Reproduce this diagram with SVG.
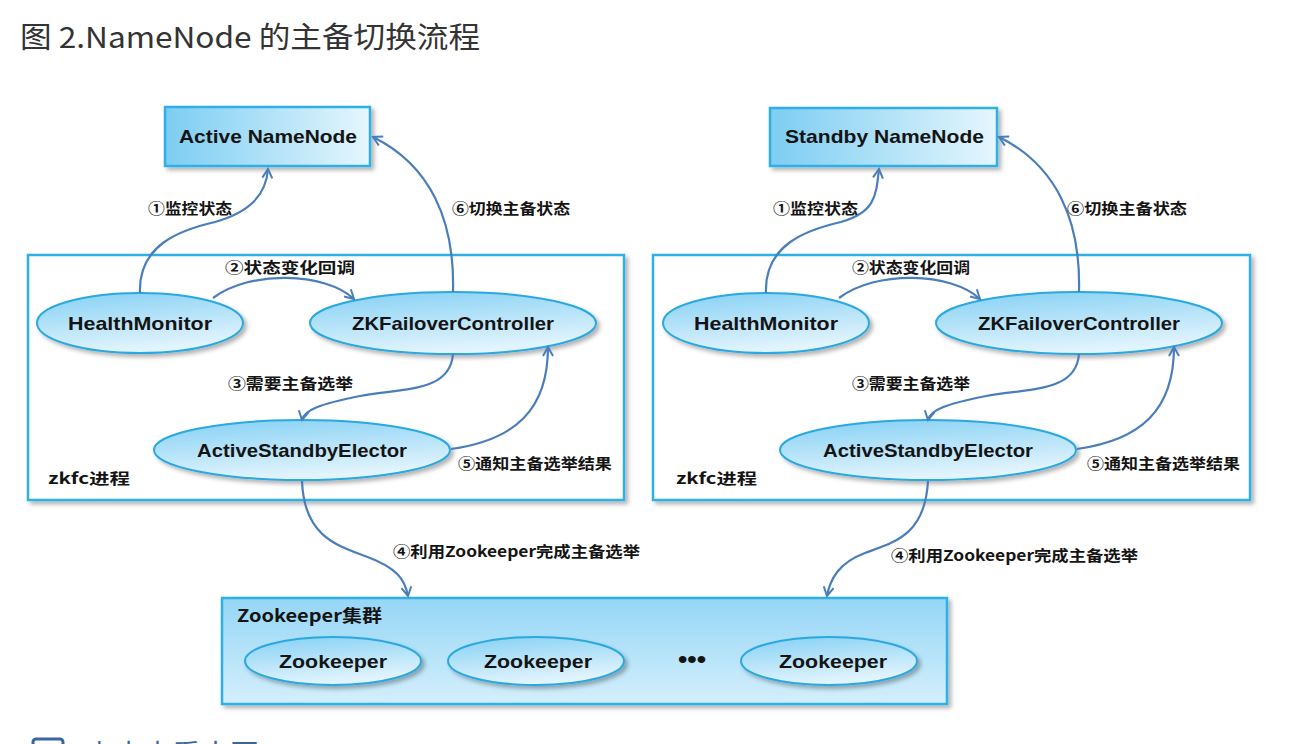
<svg xmlns="http://www.w3.org/2000/svg" width="1296" height="744" viewBox="0 0 1296 744">
<style>
.title{font-family:"Noto Sans CJK SC","Liberation Sans",sans-serif;font-size:29px;fill:#333333}
.node{font-family:"Liberation Sans","Noto Sans CJK SC",sans-serif;font-weight:bold;font-size:19px;fill:#141414}
.lbl{font-family:"Noto Sans CJK SC","Liberation Sans",sans-serif;font-weight:bold;font-size:15px;fill:#141414}
.box{stroke:#2fb0e6;stroke-width:2.5}
.ell{fill:url(#gEll);stroke:#2aa8e0;stroke-width:2;filter:url(#sh)}
.con{fill:none;stroke:#4a7ebb;stroke-width:2.2;marker-end:url(#arr)}
.foot{font-family:"Noto Sans CJK SC","Liberation Sans",sans-serif;font-size:29px;fill:#3d6698}
</style>
<defs>
<linearGradient id="gNN" x1="0" y1="0" x2="1" y2="0">
<stop offset="0" stop-color="#7ccdf2"/><stop offset="1" stop-color="#e6f6fd"/>
</linearGradient>
<linearGradient id="gEll" x1="0" y1="0" x2="0.3" y2="1">
<stop offset="0" stop-color="#84d0f4"/><stop offset="1" stop-color="#e2f4fd"/>
</linearGradient>
<linearGradient id="gZK" x1="0" y1="0" x2="0" y2="1">
<stop offset="0" stop-color="#95d6f6"/><stop offset="1" stop-color="#d4effc"/>
</linearGradient>
<filter id="sh" x="-10%" y="-20%" width="125%" height="150%">
<feDropShadow dx="3" dy="3" stdDeviation="2" flood-color="#000" flood-opacity="0.3"/>
</filter>
<marker id="arr" viewBox="0 0 12 12" refX="10" refY="6" markerWidth="12" markerHeight="12" markerUnits="userSpaceOnUse" orient="auto">
<path d="M1,1 L10,6 L1,11" fill="none" stroke="#4a7ebb" stroke-width="2"/>
</marker>
</defs>
<rect width="1296" height="744" fill="#ffffff"/>
<text class="title" x="20" y="48" textLength="460" lengthAdjust="spacingAndGlyphs">图 2.NameNode 的主备切换流程</text>

<g id="zkfc-left">
<rect class="box" x="28" y="255" width="596" height="245" fill="#ffffff" filter="url(#sh)"/>
<text class="lbl" x="48" y="484" textLength="82" lengthAdjust="spacingAndGlyphs">zkfc进程</text>
</g>
<g id="zkfc-right">
<rect class="box" x="653" y="255" width="597" height="245" fill="#ffffff" filter="url(#sh)"/>
<text class="lbl" x="676" y="484" textLength="81" lengthAdjust="spacingAndGlyphs">zkfc进程</text>
</g>

<g id="active-namenode">
<rect class="box" x="165" y="107" width="205" height="59" fill="url(#gNN)" filter="url(#sh)"/>
<text class="node" x="179" y="143" textLength="178" lengthAdjust="spacingAndGlyphs">Active NameNode</text>
</g>
<g id="standby-namenode">
<rect class="box" x="770" y="108" width="227" height="58" fill="url(#gNN)" filter="url(#sh)"/>
<text class="node" x="785" y="143" textLength="199" lengthAdjust="spacingAndGlyphs">Standby NameNode</text>
</g>

<g id="hm-left">
<ellipse class="ell" cx="140" cy="323" rx="103" ry="30"/>
<text class="node" x="140" y="330" text-anchor="middle" textLength="144" lengthAdjust="spacingAndGlyphs">HealthMonitor</text>
</g>
<g id="zkfc-ctrl-left">
<ellipse class="ell" cx="453" cy="323" rx="143" ry="31"/>
<text class="node" x="453" y="330" text-anchor="middle" textLength="202" lengthAdjust="spacingAndGlyphs">ZKFailoverController</text>
</g>
<g id="ase-left">
<ellipse class="ell" cx="302" cy="450" rx="148" ry="30"/>
<text class="node" x="302" y="457" text-anchor="middle" textLength="210" lengthAdjust="spacingAndGlyphs">ActiveStandbyElector</text>
</g>

<g id="hm-right">
<ellipse class="ell" cx="766" cy="323" rx="103" ry="30"/>
<text class="node" x="766" y="330" text-anchor="middle" textLength="144" lengthAdjust="spacingAndGlyphs">HealthMonitor</text>
</g>
<g id="zkfc-ctrl-right">
<ellipse class="ell" cx="1079" cy="323" rx="143" ry="31"/>
<text class="node" x="1079" y="330" text-anchor="middle" textLength="202" lengthAdjust="spacingAndGlyphs">ZKFailoverController</text>
</g>
<g id="ase-right">
<ellipse class="ell" cx="928" cy="450" rx="148" ry="30"/>
<text class="node" x="928" y="457" text-anchor="middle" textLength="210" lengthAdjust="spacingAndGlyphs">ActiveStandbyElector</text>
</g>

<g id="zookeeper-cluster">
<rect class="box" x="222" y="598" width="725" height="106" fill="url(#gZK)" filter="url(#sh)"/>
<text class="lbl" x="237" y="622" textLength="145" lengthAdjust="spacingAndGlyphs" style="font-size:17px">Zookeeper集群</text>
</g>
<g id="zk1">
<ellipse class="ell" cx="333" cy="661" rx="88" ry="24"/>
<text class="node" x="333" y="668" text-anchor="middle" textLength="108" lengthAdjust="spacingAndGlyphs">Zookeeper</text>
</g>
<g id="zk2">
<ellipse class="ell" cx="536" cy="661" rx="88" ry="24"/>
<text class="node" x="538" y="668" text-anchor="middle" textLength="108" lengthAdjust="spacingAndGlyphs">Zookeeper</text>
</g>
<g id="zk-dots">
<text class="node" x="692" y="667" text-anchor="middle" textLength="28" lengthAdjust="spacingAndGlyphs" style="font-size:24px">•••</text>
</g>
<g id="zk3">
<ellipse class="ell" cx="829" cy="661" rx="88" ry="24"/>
<text class="node" x="833" y="668" text-anchor="middle" textLength="108" lengthAdjust="spacingAndGlyphs">Zookeeper</text>
</g>

<g id="connectors">
<path class="con" d="M140,293 C138,245 180,230 215,222 C250,212 266,195 268,169"/>
<path class="con" d="M453,292 C455,220 430,165 373,137"/>
<path class="con" d="M213,298 C250,270 325,272 354,299"/>
<path class="con" d="M453,354 C450,392 405,388 360,396 C320,404 304,410 302,420"/>
<path class="con" d="M451,449 C515,440 548,410 548,347"/>
<path class="con" d="M302,481 C304,535 335,545 365,556 C398,568 405,580 408,596"/>

<path class="con" d="M766,293 C764,245 806,230 841,222 C876,212 876,195 879,169"/>
<path class="con" d="M1079,292 C1081,220 1056,165 999,137"/>
<path class="con" d="M839,298 C876,270 951,272 980,299"/>
<path class="con" d="M1079,354 C1076,392 1031,388 986,396 C946,404 930,410 928,420"/>
<path class="con" d="M1077,449 C1141,440 1174,410 1174,347"/>
<path class="con" d="M928,481 C925,535 895,542 865,553 C838,563 830,580 827,596"/>
</g>

<g id="labels">
<text class="lbl" x="148" y="214" textLength="84" lengthAdjust="spacingAndGlyphs">①监控状态</text>
<text class="lbl" x="452" y="214" textLength="118" lengthAdjust="spacingAndGlyphs">⑥切换主备状态</text>
<text class="lbl" x="225" y="273" textLength="130" lengthAdjust="spacingAndGlyphs">②状态变化回调</text>
<text class="lbl" x="228" y="389" textLength="125" lengthAdjust="spacingAndGlyphs">③需要主备选举</text>
<text class="lbl" x="458" y="469" textLength="154" lengthAdjust="spacingAndGlyphs">⑤通知主备选举结果</text>
<text class="lbl" x="393" y="557" textLength="247" lengthAdjust="spacingAndGlyphs">④利用Zookeeper完成主备选举</text>

<text class="lbl" x="773" y="214" textLength="85" lengthAdjust="spacingAndGlyphs">①监控状态</text>
<text class="lbl" x="1067" y="214" textLength="120" lengthAdjust="spacingAndGlyphs">⑥切换主备状态</text>
<text class="lbl" x="852" y="273" textLength="118" lengthAdjust="spacingAndGlyphs">②状态变化回调</text>
<text class="lbl" x="852" y="389" textLength="118" lengthAdjust="spacingAndGlyphs">③需要主备选举</text>
<text class="lbl" x="1087" y="469" textLength="153" lengthAdjust="spacingAndGlyphs">⑤通知主备选举结果</text>
<text class="lbl" x="891" y="561" textLength="247" lengthAdjust="spacingAndGlyphs">④利用Zookeeper完成主备选举</text>
</g>

<g id="footer">
<rect x="33" y="739" width="30" height="22" rx="3" fill="none" stroke="#3d6698" stroke-width="3"/>
<text class="foot" x="85" y="766">点击查看大图</text>
</g>
</svg>
